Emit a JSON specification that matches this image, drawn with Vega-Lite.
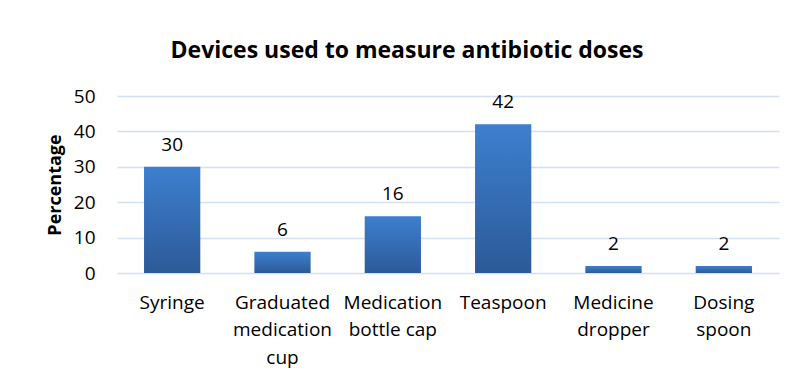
{
  "$schema": "https://vega.github.io/schema/vega-lite/v6.json",
  "autosize": {"type": "none"},
  "width": 662,
  "height": 177,
  "padding": {"left": 117, "top": 96, "right": 16, "bottom": 108},
  "background": "white",
  "title": {
    "text": "Devices used to measure antibiotic doses",
    "font": "Open Sans",
    "fontSize": 23,
    "fontWeight": "bold",
    "color": "#000000",
    "anchor": "middle",
    "frame": "group",
    "dx": -41,
    "offset": 24
  },
  "data": {
    "values": [
      {"device": "Syringe", "pct": 30},
      {"device": "Graduated medication cup", "pct": 6},
      {"device": "Medication bottle cap", "pct": 16},
      {"device": "Teaspoon", "pct": 42},
      {"device": "Medicine dropper", "pct": 2},
      {"device": "Dosing spoon", "pct": 2}
    ]
  },
  "encoding": {
    "x": {
      "field": "device",
      "type": "nominal",
      "sort": null,
      "scale": {"paddingInner": 0.49, "paddingOuter": 0.245},
      "axis": {
        "title": null,
        "labelAngle": 0,
        "labelFont": "Open Sans",
        "labelFontSize": 19,
        "labelColor": "#000000",
        "labelPadding": 20,
        "labelLineHeight": 27.5,
        "labelLimit": 0,
        "ticks": false,
        "domain": false,
        "labelExpr": "datum.value == 'Graduated medication cup' ? ['Graduated', 'medication', 'cup'] : datum.value == 'Medication bottle cap' ? ['Medication', 'bottle cap'] : datum.value == 'Medicine dropper' ? ['Medicine', 'dropper'] : datum.value == 'Dosing spoon' ? ['Dosing', 'spoon'] : datum.value"
      }
    },
    "y": {
      "field": "pct",
      "type": "quantitative",
      "scale": {"domain": [0, 50], "nice": false},
      "axis": {
        "title": "Percentage",
        "titleFont": "Open Sans",
        "titleFontSize": 18,
        "titleFontWeight": "bold",
        "titleColor": "#000000",
        "titlePadding": 9,
        "values": [0, 10, 20, 30, 40, 50],
        "labelFont": "Open Sans",
        "labelFontSize": 19,
        "labelColor": "#000000",
        "labelPadding": 22,
        "ticks": false,
        "domain": false,
        "grid": true,
        "gridColor": "#d3e0f1",
        "gridWidth": 1.5
      }
    }
  },
  "layer": [
    {
      "mark": {
        "type": "bar",
        "fill": {
          "gradient": "linear",
          "x1": 0, "y1": 0, "x2": 0, "y2": 1,
          "stops": [
            {"offset": 0, "color": "#3d7fcf"},
            {"offset": 1, "color": "#2c5a98"}
          ]
        }
      }
    },
    {
      "mark": {
        "type": "text",
        "baseline": "bottom",
        "dy": -12,
        "font": "Open Sans",
        "fontSize": 19,
        "color": "#000000"
      },
      "encoding": {"text": {"field": "pct", "type": "quantitative"}}
    }
  ],
  "config": {"view": {"stroke": null}}
}
